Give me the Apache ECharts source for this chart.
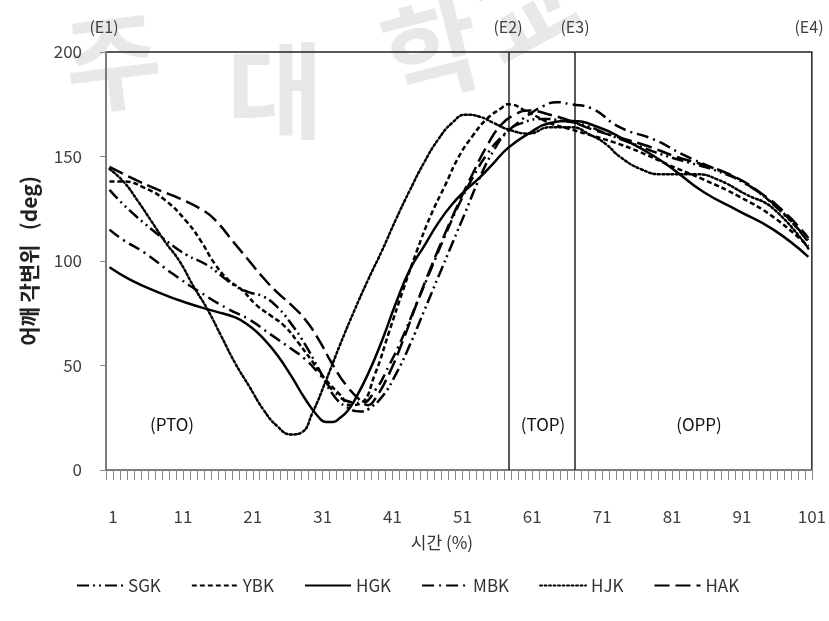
<!DOCTYPE html>
<html>
<head>
<meta charset="utf-8">
<script src="https://cdn.jsdelivr.net/npm/echarts@6/dist/echarts.min.js"></script>
<style>html,body{margin:0;padding:0;background:#fff}#c{width:829px;height:621px}</style>
</head>
<body>
<div id="c"></div>
<script>
// ---- data ----
const seriesNames = ['SGK', 'YBK', 'HGK', 'MBK', 'HJK', 'HAK'];
const xTickLabels = [1, 11, 21, 31, 41, 51, 61, 71, 81, 91, 101];
const yTicks = [0, 50, 100, 150, 200];
const eventNames = ['(E1)', '(E2)', '(E3)', '(E4)'];
const eventX = [1, 58.1, 67.6, 101];
const phaseNames = ['(PTO)', '(TOP)', '(OPP)'];

const SGK = [[1,134],[3,127],[6,118],[9,110],[12,103],[15,98],[17,93],[19,88],[21,85],[23,83],[25,78],[27,70],[29,60],[31,48],[33,36],[35,30],[37,28],[38,29],[40,35],[42,46],[44,60],[46,76],[48,92],[50,108],[52,124],[54,140],[56,153],[58,162],[60,166],[63,168],[66,167],[69,165],[72,161],[76,156],[80,151],[84,147],[88,143],[92,137],[96,127],[101,110]];
const YBK = [[1,138],[3,138],[6,135],[9,129],[12,119],[14,110],[16,99],[18,91],[20,86],[22,79],[24,74],[26,69],[28,61],[30,52],[32,43],[34,36],[35.5,31],[37,32],[39,46],[41,66],[43,86],[45,105],[47,122],[49,136],[51,150],[53,160],[55,168],[57,173],[58,175],[61,171],[64,166],[67,163],[70,160],[73,157],[77,152],[81,146],[86,139],[91,131],[96,121],[101,107]];
const HGK = [[1,97],[4,91],[8,85],[12,80],[16,76],[19,73],[21,69],[23,63],[25,55],[27,45],[29,34],[31,25],[32,23],[33,23],[34,25],[35,28],[36,33],[38,46],[40,62],[42,80],[44,96],[46,107],[48,118],[50,127],[52,134],[54,140],[56,147],[58,154],[61,161],[64,166],[67,167],[71,164],[75,157.5],[79,150],[82,143],[86,133],[91,124],[96,115],[101,102]];
const MBK = [[1,115],[3,110],[6,104],[10,94],[14,85],[18,77],[21,72],[24,65],[27,58],[29,53],[31,46],[33,38],[35,33],[37,32],[39,38],[41,50],[43,64],[45,80],[47,96],[49,112],[51,127],[53,140],[55,151],[57,159],[59,165],[61,170],[63,174],[65,176],[67,175],[70,173],[74,164],[79,158],[83,151],[87,145],[91,139],[95,130],[98,121],[101,109]];
const HJK = [[1,144],[3,138],[5,129],[7,119],[9,109],[11,100],[13,88],[15,77],[17,64],[19,51],[21,40],[23,29],[25,21],[27,17],[28.5,18],[30,27],[32,43],[34,60],[36,76],[38,91],[40,105],[42,120],[44,134],[46,147],[48,158],[50,166],[52,170],[54,169],[56,166],[58,163],[61,161],[64,164],[67,164],[70,160],[72,156],[74,150],[77,144],[80,141.5],[85,141.5],[88,139],[92,132],[96,125],[101,106]];
const HAK = [[1,145],[4,140],[8,134],[11,130],[14,125],[16,120],[19,108],[21,100],[23,92],[25,85],[27,79],[29,72],[31,62],[33,50],[35,40],[37,33],[38,31],[39,34],[41,46],[43,62],[45,80],[47,97],[49,113],[51,128],[53,142],[55,155],[57,165],[59,170],[61,172],[64,170],[67,167],[70,163],[74,159],[78,155],[82,150],[86,146],[90,141],[94,133],[98,122],[101,111]];

const seriesData = [SGK, YBK, HGK, MBK, HJK, HAK];
const dashTypes = [[12,4,2,4,2,4], [5,3], 'solid', [12,5,2,5], [2,2.5], [15,6]];

const tickPositions = [];
for (let i = 0; i <= 101; i++) tickPositions.push(i + 0.5);

const FONT = '"Noto Sans CJK KR", "Noto Sans", sans-serif';
const chart = echarts.init(document.getElementById('c'), null, {renderer: 'canvas'});

const series = seriesNames.map((n, i) => ({
  name: n,
  type: 'line',
  data: seriesData[i],
  smooth: true,
  symbol: 'none',
  lineStyle: {color: '#000', width: 2.5, type: dashTypes[i], cap: i === 4 ? 'round' : 'butt'},
  itemStyle: {color: '#000'},
  z: 5
}));

series.push({
  type: 'line', data: [], silent: true,
  markLine: {
    silent: true, symbol: 'none',
    lineStyle: {color: '#222', width: 1.5, type: 'solid'},
    label: {show: false},
    data: [{xAxis: eventX[1]}, {xAxis: eventX[2]}]
  }
});

const textStyleEv = {fill: '#404040', font: '16px ' + FONT, textAlign: 'center', textVerticalAlign: 'middle'};
const evPx = [104, 508, 575, 809];
const phasePx = [172, 543, 699];

const graphics = [];
// watermark
const wm = [['주', 113, 62, 0.12], ['대', 275, 90, 0.0], ['학', 432, 50, 0.25], ['교', 525, 10, 0.5]];
wm.forEach(w => graphics.push({type: 'text', x: w[1], y: w[2], rotation: w[3], z: -10,
  style: {text: w[0], fill: 'rgba(0,0,0,0.09)', font: 'bold 105px ' + FONT, textAlign: 'center', textVerticalAlign: 'middle'}}));
eventNames.forEach((t, i) => graphics.push({type: 'text', x: evPx[i], y: 27, style: Object.assign({text: t}, textStyleEv)}));
phaseNames.forEach((t, i) => graphics.push({type: 'text', x: phasePx[i], y: 425,
  style: {text: t, fill: '#111', font: '17px ' + FONT, textAlign: 'center', textVerticalAlign: 'middle'}}));

chart.setOption({
  animation: false,
  backgroundColor: '#fff',
  grid: {left: 106, right: 14, top: 52, bottom: 151, show: true, borderColor: '#222', borderWidth: 1.5, backgroundColor: 'transparent'},
  xAxis: {
    type: 'value', min: 0.5, max: 101.5,
    name: '시간 (%)', nameLocation: 'middle', nameGap: 64,
    nameTextStyle: {fontFamily: FONT, fontSize: 17, color: '#333', padding: [0, 34, 0, 0]},
    axisLine: {show: true, lineStyle: {color: '#888', width: 1.5}},
    axisTick: {show: true, customValues: tickPositions, length: 10, inside: false, lineStyle: {color: '#888', width: 1}},
    axisLabel: {customValues: xTickLabels, fontFamily: FONT, fontSize: 17, color: '#404040', margin: 38, padding: [0, 0, 0, 7]},
    splitLine: {show: false}
  },
  yAxis: {
    type: 'value', min: yTicks[0], max: yTicks[yTicks.length - 1], interval: 50,
    name: '어깨 각변위   (deg)', nameLocation: 'middle', nameGap: 66, nameRotate: 90,
    nameTextStyle: {fontFamily: FONT, fontSize: 21, fontWeight: 'bold', color: '#222'},
    axisLine: {show: true, lineStyle: {color: '#888', width: 1.5}},
    axisTick: {show: true, length: 6, inside: false, lineStyle: {color: '#888'}},
    axisLabel: {fontFamily: FONT, fontSize: 17, color: '#404040', margin: 24},
    splitLine: {show: false}
  },
  legend: {
    data: seriesNames, left: 71, top: 572, itemWidth: 46, itemHeight: 12, itemGap: 30,
    itemStyle: {opacity: 0, color: 'transparent', borderWidth: 0},
    textStyle: {fontFamily: FONT, fontSize: 17, color: '#333'}
  },
  graphic: graphics,
  series: series
});
</script>
</body>
</html>
